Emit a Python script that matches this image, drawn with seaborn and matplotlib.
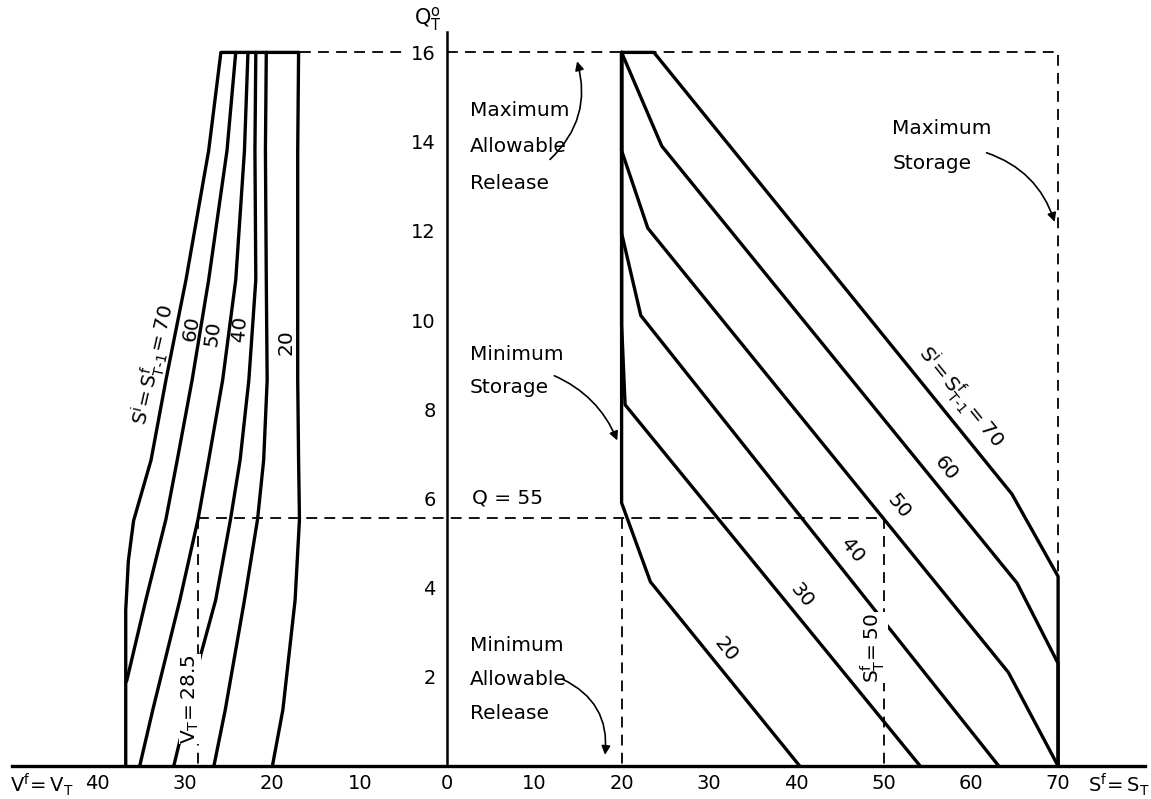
import numpy as np
import pandas as pd
import matplotlib
matplotlib.use("Agg")
import matplotlib.pyplot as plt
import seaborn as sns

# ---------------- data ----------------
# Right panel: final storage S^f (x) vs release Q (y), one curve per initial storage S^i
r70_s = [20, 23.7, 64.7, 70, 70]
r70_q = [16, 16, 6.1, 4.25, 0]
r60_s = [20, 24.6, 65.3, 70, 70]
r60_q = [16, 13.9, 4.1, 2.3, 0]
r50_s = [20, 20, 23.0, 64.3, 70]
r50_q = [16, 13.8, 12.06, 2.1, 0]
r40_s = [20, 20, 22.2, 63.2]
r40_q = [16, 11.95, 10.1, 0]
r30_s = [20, 20, 20.4, 54.2]
r30_q = [16, 9.9, 8.1, 0]
r20_s = [20, 20, 23.3, 40.4]
r20_q = [16, 5.9, 4.13, 0]

# Left panel: final volume V^f (plotted leftwards) vs release Q
l70_v = [17.0, 25.9, 27.3, 29.9, 32.2, 33.9, 35.9, 36.5, 36.8, 36.8]
l70_q = [16, 16, 13.8, 10.9, 8.65, 6.86, 5.5, 4.6, 3.5, 0]
l60_v = [24.2, 25.2, 27.3, 29.2, 30.9, 32.2, 34.5, 36.7]
l60_q = [16, 13.8, 10.9, 8.65, 6.86, 5.53, 3.72, 1.9]
l50_v = [22.8, 23.2, 24.2, 25.7, 27.3, 28.5, 30.6, 33.7, 35.2]
l50_q = [16, 13.8, 10.9, 8.65, 6.86, 5.55, 3.72, 1.26, 0]
l40_v = [21.9, 22.0, 21.9, 22.7, 23.7, 24.8, 26.5, 28.2, 31.3]
l40_q = [16, 13.8, 10.9, 8.65, 6.86, 5.53, 3.72, 2.5, 0]
l30_v = [20.7, 20.8, 20.7, 20.6, 21.0, 21.7, 23.2, 25.4, 26.7]
l30_q = [16, 13.8, 10.9, 8.65, 6.86, 5.53, 3.72, 1.26, 0]
l20_v = [17.0, 17.1, 17.1, 17.0, 16.9, 17.4, 18.8, 20.0]
l20_q = [16, 13.8, 8.65, 6.86, 5.53, 3.72, 1.26, 0]

# constraint / example values
q_max = 16
s_min = 20
s_max = 70
q_example = 5.55
s_example = 50
v_example = 28.5

x_ticks = [-40, -30, -20, -10, 0, 10, 20, 30, 40, 50, 60, 70]
x_ticklabels = ["40", "30", "20", "10", "0", "10", "20", "30", "40", "50", "60", "70"]
y_ticks = [2, 4, 6, 8, 10, 12, 14, 16]
y_ticklabels = ["2", "4", "6", "8", "10", "12", "14", "16"]

# ---------------- build table ----------------
rows = []
right = {"R70": (r70_s, r70_q), "R60": (r60_s, r60_q), "R50": (r50_s, r50_q),
         "R40": (r40_s, r40_q), "R30": (r30_s, r30_q), "R20": (r20_s, r20_q)}
left = {"L70": (l70_v, l70_q), "L60": (l60_v, l60_q), "L50": (l50_v, l50_q),
        "L40": (l40_v, l40_q), "L30": (l30_v, l30_q), "L20": (l20_v, l20_q)}
for name, (xs, qs) in right.items():
    for i, (x, q) in enumerate(zip(xs, qs)):
        rows.append({"curve": name, "order": i, "x": x, "q": q})
for name, (vs, qs) in left.items():
    for i, (v, q) in enumerate(zip(vs, qs)):
        rows.append({"curve": name, "order": i, "x": -v, "q": q})
df = pd.DataFrame(rows)

# ---------------- figure ----------------
sns.set_theme(style="white")
plt.rcParams["font.family"] = ["DejaVu Sans"]
plt.rcParams["mathtext.default"] = "regular"
plt.rcParams["text.color"] = "black"
plt.rcParams["xtick.color"] = "black"
plt.rcParams["ytick.color"] = "black"

W, H = 1151, 799
fig = plt.figure(figsize=(W / 100, H / 100), dpi=100)
ax = fig.add_axes([0, 0, 1, 1])
px_per_x = 8.73
px_per_q = 44.6
x0_px, q0_px = 447, 766
ax.set_xlim(-x0_px / px_per_x, (W - x0_px) / px_per_x)
ax.set_ylim(-(H - q0_px) / px_per_q, q0_px / px_per_q)

sns.lineplot(data=df, x="x", y="q", units="curve", estimator=None, sort=False,
             color="black", linewidth=2.4, ax=ax, legend=False, zorder=3)

dash = dict(color="black", lw=1.3, linestyle=(0, (6, 4)), zorder=2)
# maximum release line and maximum storage line
ax.plot([-16.8, -4.7], [q_max, q_max], **dash)
ax.plot([0, s_max, s_max], [q_max, q_max, 4.25], **dash)
# example Q = 5.5
ax.plot([-v_example, s_example], [q_example, q_example], **dash)
ax.plot([-v_example, -v_example], [q_example, 0], **dash)
ax.plot([s_example, s_example], [q_example, 0], **dash)
ax.plot([s_min, s_min], [q_example, 0], **dash)

# axes
for sp in ["top", "right"]:
    ax.spines[sp].set_visible(False)
ax.spines["left"].set_position(("data", 0))
ax.spines["bottom"].set_position(("data", 0))
ax.spines["left"].set_bounds(0, 16.45)
ax.spines["bottom"].set_bounds(-49.8, 80.0)
ax.spines["left"].set_linewidth(1.8)
ax.spines["bottom"].set_linewidth(2.4)
ax.spines["left"].set_color("black")
ax.spines["bottom"].set_color("black")
ax.set_xticks(x_ticks)
ax.set_xticklabels(x_ticklabels)
ax.set_yticks(y_ticks)
ax.set_yticklabels(y_ticklabels)
ax.tick_params(axis="x", direction="in", length=7, width=1.5, pad=6, labelsize=14, colors="black")
ax.tick_params(axis="y", direction="inout", length=10, width=1.5, pad=3, labelsize=14, colors="black")
ax.set_xlabel("")
ax.set_ylabel("")
ax.grid(False)

fs = 14.5
# axis names
ax.text(-2.2, 16.75, r"$Q^o_T$", ha="center", va="center", fontsize=15)
ax.text(-46.4, -0.42, r"$V^f\!=V_T$", ha="center", va="center", fontsize=14)
ax.text(76.9, -0.42, r"$S^f\!=S_T$", ha="center", va="center", fontsize=14)

# left labels
ax.text(-33.6, 9.0, r"$S^i\!=S^f_{T\text{-}1}\!=70$", rotation=77, ha="center", va="center",
        fontsize=fs, rotation_mode="anchor")
ax.text(-29.3, 9.8, "60", rotation=80, ha="center", va="center", fontsize=fs, rotation_mode="anchor")
ax.text(-26.8, 9.7, "50", rotation=82, ha="center", va="center", fontsize=fs, rotation_mode="anchor")
ax.text(-23.7, 9.8, "40", rotation=85, ha="center", va="center", fontsize=fs, rotation_mode="anchor")
ax.text(-18.4, 9.5, "20", rotation=90, ha="center", va="center", fontsize=fs, rotation_mode="anchor")
ax.text(-29.4, 1.5, r"$V_T\!=28.5$", rotation=90, ha="center", va="center", fontsize=fs,
        zorder=5, bbox=dict(facecolor="white", edgecolor="none", pad=0.3))

# right labels
ax.text(58.9, 8.27, r"$S^i\!=S^f_{T\text{-}1}\!=70$", rotation=-51, ha="center", va="center",
        fontsize=fs, rotation_mode="anchor", zorder=5)
ax.text(57.2, 6.67, "60", rotation=-51, ha="center", va="center", fontsize=fs, rotation_mode="anchor")
ax.text(51.7, 5.81, "50", rotation=-51, ha="center", va="center", fontsize=fs, rotation_mode="anchor")
ax.text(46.4, 4.84, "40", rotation=-51, ha="center", va="center", fontsize=fs, rotation_mode="anchor")
ax.text(40.6, 3.83, "30", rotation=-51, ha="center", va="center", fontsize=fs, rotation_mode="anchor")
ax.text(32.0, 2.6, "20", rotation=-51, ha="center", va="center", fontsize=fs, rotation_mode="anchor")
ax.text(48.8, 2.65, r"$S^f_T\!=50$", rotation=90, ha="center", va="center", fontsize=fs,
        zorder=5, bbox=dict(facecolor="white", edgecolor="none", pad=0.5))
ax.text(2.9, 5.8, "Q = 55", ha="left", va="bottom", fontsize=fs)

# annotations
for txt, y in [("Maximum", 14.7), ("Allowable", 13.88), ("Release", 13.07)]:
    ax.text(2.6, y, txt, ha="left", va="center", fontsize=fs)
for txt, y in [("Maximum", 14.3), ("Storage", 13.5)]:
    ax.text(51.0, y, txt, ha="left", va="center", fontsize=fs)
for txt, y in [("Minimum", 9.22), ("Storage", 8.48)]:
    ax.text(2.6, y, txt, ha="left", va="center", fontsize=fs)
for txt, y in [("Minimum", 2.71), ("Allowable", 1.93), ("Release", 1.17)]:
    ax.text(2.6, y, txt, ha="left", va="center", fontsize=fs)

arrow = dict(arrowstyle="-|>", color="black", lw=1.2, mutation_scale=13, shrinkA=0, shrinkB=0)
ax.annotate("", xy=(14.9, 15.8), xytext=(11.8, 13.6),
            arrowprops=dict(connectionstyle="arc3,rad=0.3", **arrow))
ax.annotate("", xy=(69.6, 12.2), xytext=(61.8, 13.75),
            arrowprops=dict(connectionstyle="arc3,rad=-0.25", **arrow))
ax.annotate("", xy=(19.5, 7.3), xytext=(12.3, 8.75),
            arrowprops=dict(connectionstyle="arc3,rad=-0.2", **arrow))
ax.annotate("", xy=(18.1, 0.25), xytext=(13.2, 1.95),
            arrowprops=dict(connectionstyle="arc3,rad=-0.35", **arrow))

fig.savefig("out.png", dpi=100, facecolor="white")
